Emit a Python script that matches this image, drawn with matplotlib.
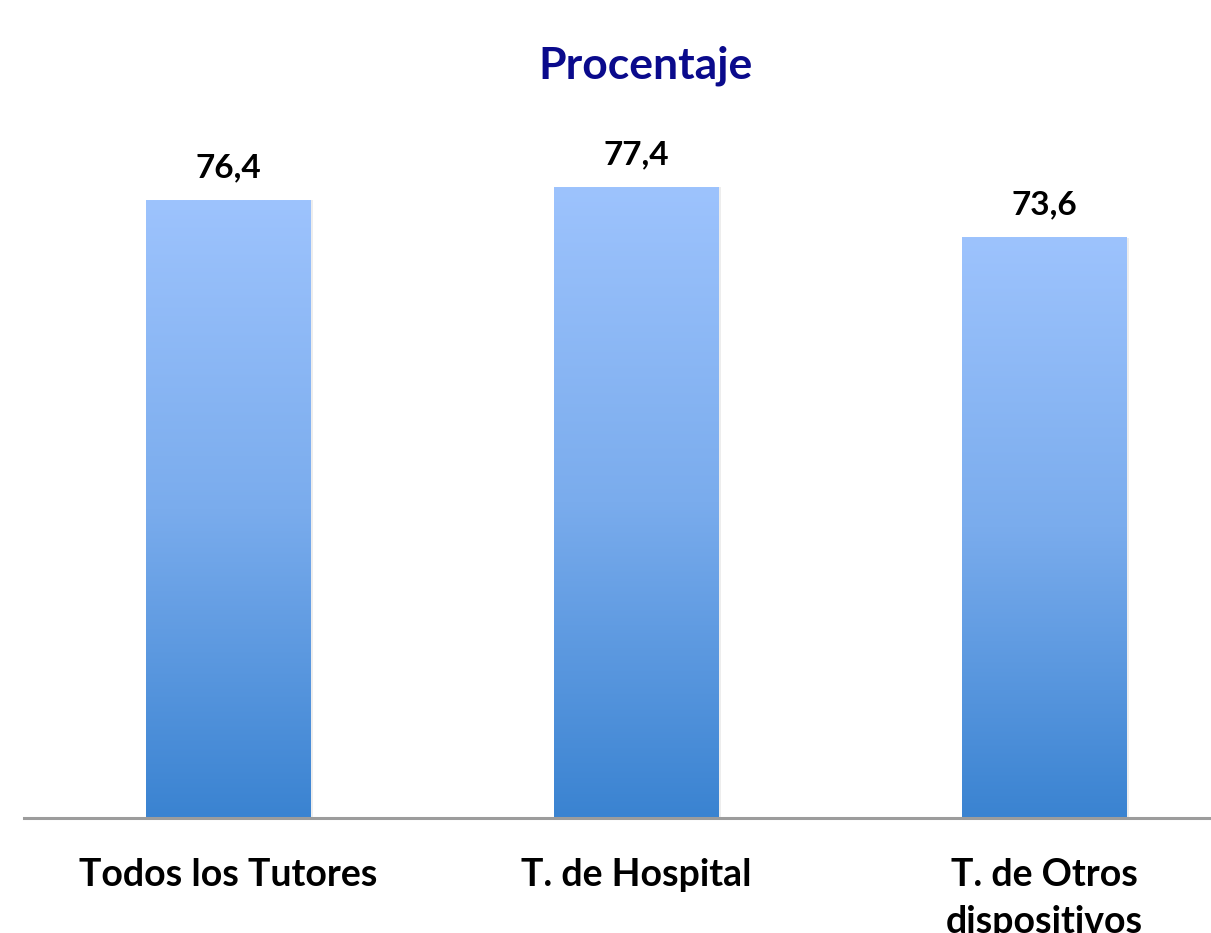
import numpy as np
import matplotlib.pyplot as plt
from matplotlib.colors import LinearSegmentedColormap

categorias = ["Todos los Tutores", "T. de Hospital", "T. de Otros\ndispositivos"]
valores = [76.4, 77.4, 73.6]
etiquetas = ["76,4", "77,4", "73,6"]

plt.rcParams['font.family'] = ['Lato', 'DejaVu Sans']

fig = plt.figure(figsize=(12.11, 9.33), dpi=100)
ax = fig.add_axes([24 / 1211, 115 / 933, 1224 / 1211, 665.5 / 933])

x = np.arange(len(categorias))
# barras de fondo (sombra) y barras reales
ax.bar(x + 0.003, valores, width=0.41, bottom=0, color='#d8d8d8', alpha=0.45, zorder=1)
barras = ax.bar(x, valores, width=0.402, color='none', zorder=2)

degradado = LinearSegmentedColormap.from_list("azul", ["#3a83d1", "#7aaced", "#9dc3fd"])
grad = np.linspace(0, 1, 256).reshape(-1, 1)
for b in barras:
    x0, y0 = b.get_x(), 30
    ax.imshow(grad, cmap=degradado, origin='lower', aspect='auto',
              extent=[x0, x0 + b.get_width(), y0, b.get_height()], zorder=2)

for xi, v, t in zip(x, valores, etiquetas):
    ax.annotate(t, (xi, v), xytext=(0, 13), textcoords='offset points',
                ha='center', va='bottom', fontsize=24, fontweight='bold', color='black')

ax.set_xlim(-0.5, 2.5)
ax.set_ylim(30, 80)
ax.set_yticks([])
ax.set_xticks(x)
ax.set_xticklabels(categorias, fontsize=27, fontweight='bold', linespacing=1.45)
ax.tick_params(axis='x', length=0, pad=29)
for s in ['top', 'right', 'left']:
    ax.spines[s].set_visible(False)
ax.spines['bottom'].set_color('#9c9c9c')
ax.spines['bottom'].set_linewidth(2.2)
ax.spines['bottom'].set_zorder(3)

fig.text(645 / 1211, 1 - 66 / 933, "Procentaje", ha='center', va='center',
         fontsize=32, fontweight='bold', color='#0a0a8c')

fig.savefig("out.png", dpi=100)
